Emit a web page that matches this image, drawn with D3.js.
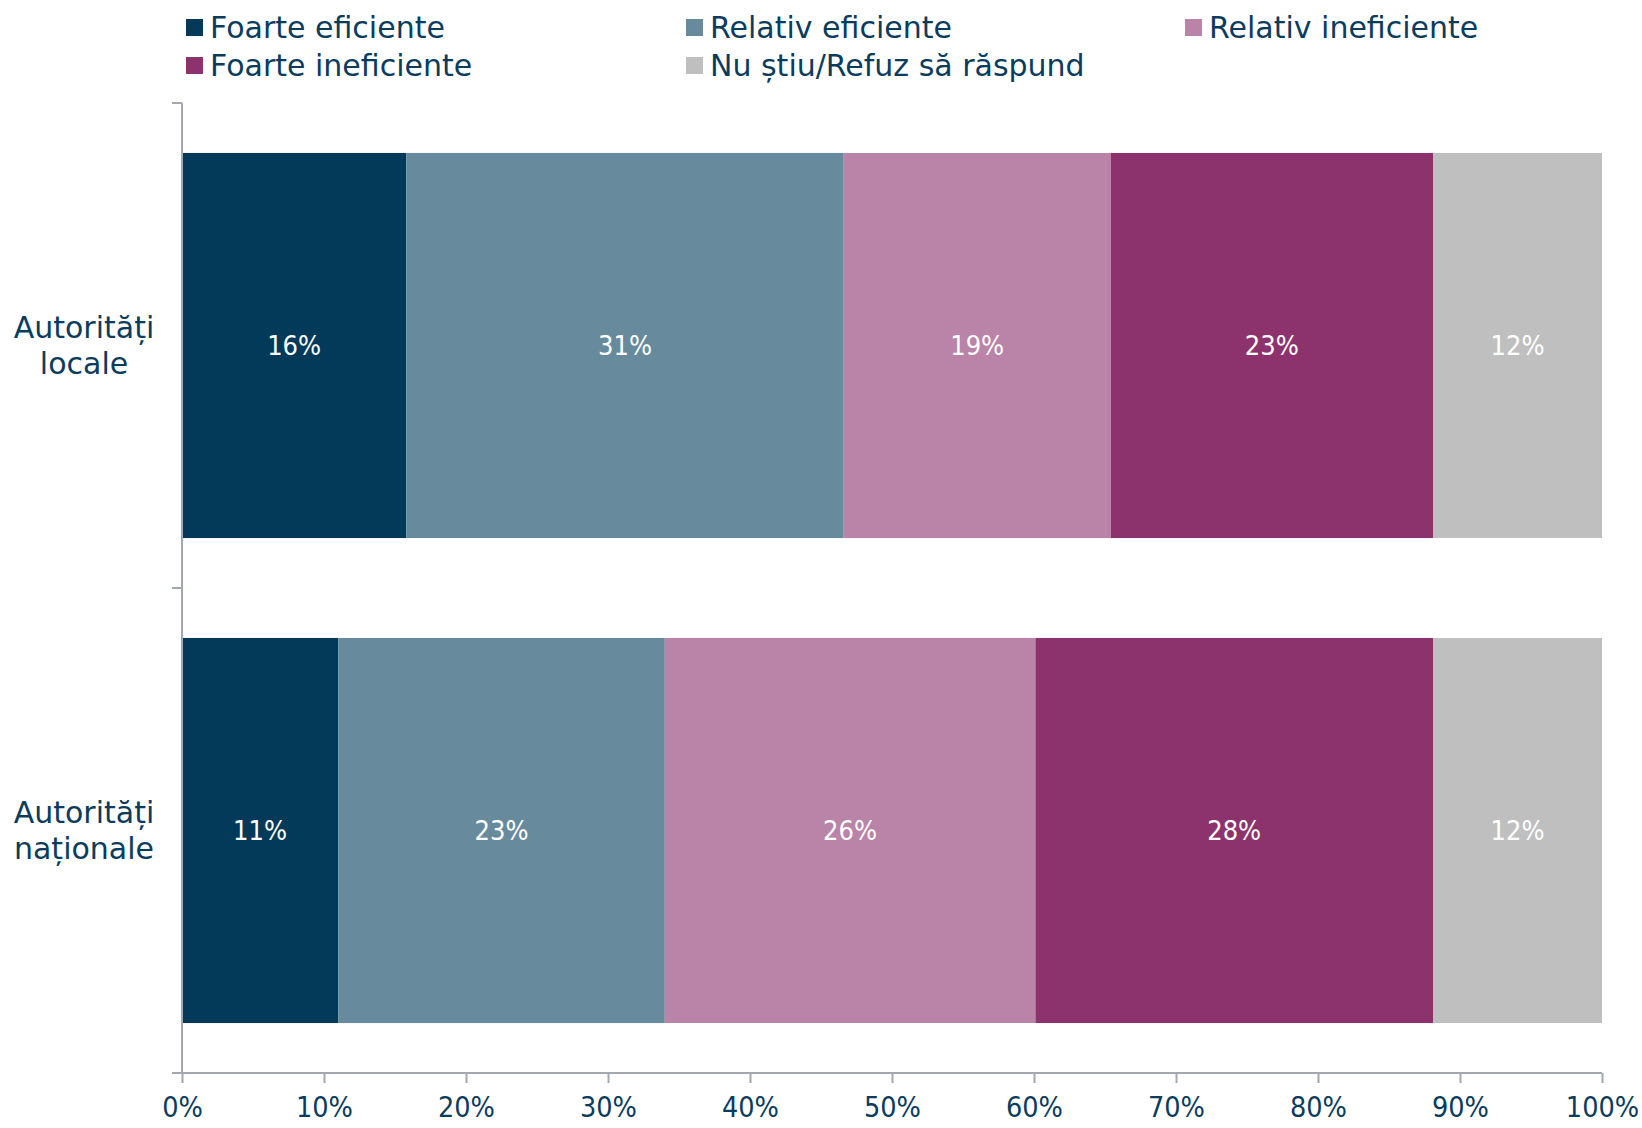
<!DOCTYPE html>
<html>
<head>
<meta charset="utf-8">
<script src="https://cdn.jsdelivr.net/npm/d3@7"></script>
<style>
  html, body { margin: 0; padding: 0; background: #fff; }
  svg { display: block; }
</style>
</head>
<body>
<svg id="chart" width="1642" height="1128"></svg>
<script>
// ---- data ----
const categories = ["Autorități locale", "Autorități naționale"];
const categoryLines = [["Autorități", "locale"], ["Autorități", "naționale"]];
const seriesNames = ["Foarte eficiente", "Relativ eficiente", "Relativ ineficiente", "Foarte ineficiente", "Nu știu/Refuz să răspund"];
const valuesLocale = [15.8, 30.8, 18.8, 22.7, 11.9];
const valuesNationale = [11.0, 23.0, 26.1, 28.0, 11.9];
const xTickValues = [0, 10, 20, 30, 40, 50, 60, 70, 80, 90, 100];
const seriesColors = ["#033A5A", "#678A9D", "#BA83A8", "#8C326C", "#BFBFBF"];

const allValues = [valuesLocale, valuesNationale];
const textColor = "#0B3C5D";
const axisColor = "#A3A7B0";
const wideFont = '"DejaVu Sans", sans-serif';
const condFont = '"DejaVu Sans Condensed", "DejaVu Sans", sans-serif';

const svg = d3.select("#chart");
const margin = { left: 182, top: 103 };
const plotRight = 1602;
const plotBottom = 1073;

const x = d3.scaleLinear().domain([0, 100]).range([margin.left, plotRight]);
const y = d3.scaleBand().domain(categories).range([margin.top, plotBottom]).paddingInner(0.206).paddingOuter(0.103);
const yOuter = d3.scaleBand().domain(categories).range([margin.top, plotBottom]).padding(0);
const color = d3.scaleOrdinal().domain(seriesNames).range(seriesColors);

// stacked data
const rows = categories.map((c, i) => {
  const o = { category: c };
  seriesNames.forEach((s, j) => o[s] = allValues[i][j]);
  return o;
});
const stacked = d3.stack().keys(seriesNames)(rows);

const g = svg.append("g");

const layers = g.selectAll("g.layer").data(stacked).join("g")
  .attr("class", "layer")
  .attr("fill", d => color(d.key));

layers.selectAll("rect").data(d => d).join("rect")
  .attr("x", d => x(d[0]))
  .attr("width", d => x(d[1]) - x(d[0]))
  .attr("y", d => y(d.data.category))
  .attr("height", y.bandwidth());

// value labels
const fmt = d3.format(".0f");
layers.selectAll("text").data(d => d).join("text")
  .attr("x", d => (x(d[0]) + x(d[1])) / 2)
  .attr("y", d => y(d.data.category) + y.bandwidth() / 2)
  .attr("dy", "0.36em")
  .attr("text-anchor", "middle")
  .attr("fill", "#ffffff")
  .style("font-family", condFont)
  .style("font-size", "27px")
  .text(d => fmt(d[1] - d[0]) + "%");

// y axis line with ticks at band boundaries
const yBoundaries = [margin.top].concat(categories.map(c => yOuter(c) + yOuter.bandwidth()));
g.append("line")
  .attr("x1", margin.left).attr("x2", margin.left)
  .attr("y1", margin.top).attr("y2", plotBottom)
  .attr("stroke", axisColor).attr("stroke-width", 2);
g.selectAll("line.ytick").data(yBoundaries).join("line")
  .attr("class", "ytick")
  .attr("x1", margin.left - 10).attr("x2", margin.left)
  .attr("y1", d => d).attr("y2", d => d)
  .attr("stroke", axisColor).attr("stroke-width", 2);

// category labels
const catG = g.selectAll("text.cat").data(categories).join("text")
  .attr("class", "cat")
  .attr("text-anchor", "middle")
  .attr("fill", textColor)
  .style("font-family", wideFont)
  .style("font-size", "30px");
catG.each(function(c, i) {
  const t = d3.select(this);
  const cy = y(c) + y.bandwidth() / 2;
  categoryLines[i].forEach((line, k) => {
    t.append("tspan")
      .attr("x", 84)
      .attr("y", cy + (k - 0.5) * 36)
      .attr("dy", "0.36em")
      .text(line);
  });
});

// x axis
const xAxis = d3.axisBottom(x).tickValues(xTickValues).tickFormat(d => d + "%").tickSize(10).tickSizeOuter(0).tickPadding(14);
const xg = g.append("g").attr("transform", `translate(0,${plotBottom})`).call(xAxis);
xg.select(".domain").attr("stroke", axisColor).attr("stroke-width", 2)
  .attr("d", `M${margin.left - 10},0H${plotRight}`);
xg.selectAll(".tick line").attr("stroke", axisColor).attr("stroke-width", 2);
xg.selectAll(".tick text").attr("fill", textColor)
  .style("font-size", "28.5px")
  .style("font-family", condFont);

// legend
const legendCols = [186, 686, 1185];
const legendRows = [27, 65];
const legendItems = seriesNames.map((s, i) => ({ name: s, col: i % 3, row: Math.floor(i / 3) }));
const lg = g.selectAll("g.legend").data(legendItems).join("g")
  .attr("class", "legend")
  .attr("transform", d => `translate(${legendCols[d.col]},${legendRows[d.row]})`);
lg.append("rect")
  .attr("x", 0).attr("y", -8).attr("width", 17).attr("height", 17)
  .attr("fill", d => color(d.name));
lg.append("text")
  .attr("x", 24).attr("y", 0).attr("dy", "0.36em")
  .attr("fill", textColor)
  .style("font-family", wideFont).style("font-size", "30px")
  .text(d => d.name);
</script>
</body>
</html>
